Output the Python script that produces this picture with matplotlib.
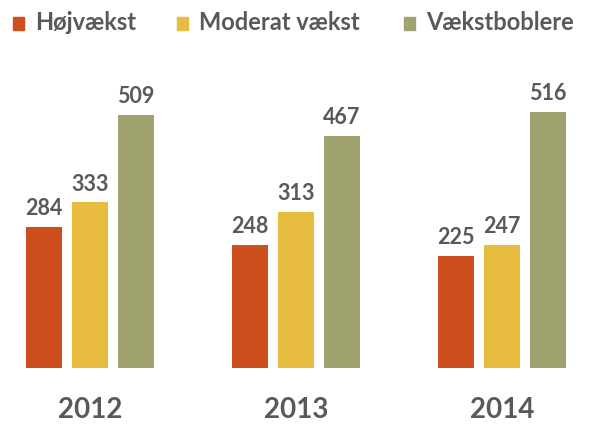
import matplotlib
matplotlib.use("Agg")
import matplotlib.pyplot as plt
from matplotlib.patches import Rectangle
import numpy as np

years = ["2012", "2013", "2014"]
series_names = ["Højvækst", "Moderat vækst", "Vækstboblere"]
hojvaekst = [284, 248, 225]
moderat = [333, 313, 247]
boblere = [509, 467, 516]
colors = ["#CD4F1D", "#E8BB41", "#A0A26F"]
text_color = "#595959"

plt.rcParams['font.family'] = ['Lato', 'DejaVu Sans']

W, H = 590, 424
fig = plt.figure(figsize=(W / 100, H / 100), dpi=100)
bottom_px = 368
ax = fig.add_axes([0, (H - bottom_px) / H, 1, bottom_px / H])
ax.set_xlim(-90 / 206, (W - 90) / 206)
ax.set_ylim(0, bottom_px / 0.497)
ax.axis("off")

x = np.arange(len(years))
width = 36 / 206
step = 46 / 206
for i, (vals, c) in enumerate(zip([hojvaekst, moderat, boblere], colors)):
    pos = x + (i - 1) * step
    ax.bar(pos, vals, width=width, color=c)
    for p, v in zip(pos, vals):
        ax.text(p, v + 16, str(v), ha="center", va="bottom", fontsize=15.5,
                fontweight="bold", color=text_color)

for xi, y in zip(x, years):
    ax.text(xi, -42 / 0.497, y, ha="center", va="center", fontsize=20,
            fontweight="bold", color=text_color, clip_on=False)

# legend
sq_x = [13, 177, 404]
tx_x = [35, 199, 426]
for sx, tx, name, c in zip(sq_x, tx_x, series_names, colors):
    fig.patches.append(Rectangle((sx / W, 1 - 30 / H), 11 / W, 13 / H,
                                 transform=fig.transFigure, color=c))
    fig.text(tx / W, 1 - 23 / H, name, ha="left", va="center", fontsize=17,
             fontweight="bold", color=text_color)

fig.savefig("out.png", dpi=100)
